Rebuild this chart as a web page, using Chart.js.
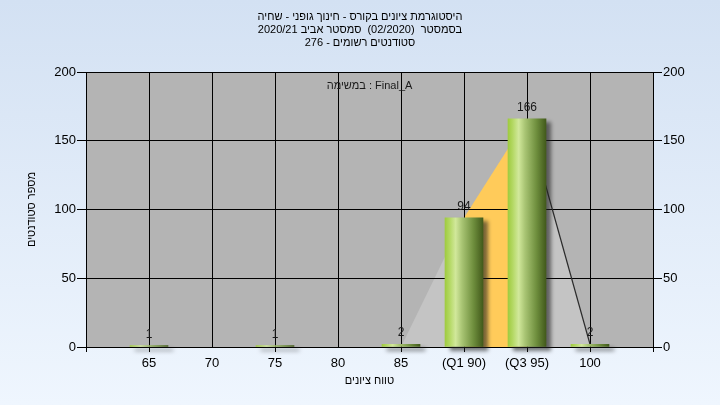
<!DOCTYPE html>
<html lang="he">
<head>
<meta charset="utf-8">
<title>היסטוגרמת ציונים</title>
<script src="https://cdn.jsdelivr.net/npm/chart.js@4/dist/chart.umd.min.js"></script>
<style>
  html, body { margin: 0; padding: 0; background: #e4edf9; }
  #wrap { width: 720px; height: 405px; }
</style>
</head>
<body>
<div id="wrap"><canvas id="myChart" width="720" height="405"></canvas></div>
<script>
const titleLines = [
  'היסטוגרמת ציונים בקורס - חינוך גופני - שחיה',
  'בסמסטר  (02/2020)  סמסטר אביב 2020/21',
  'סטודנטים רשומים - 276'
];
const taskLabel = 'במשימה : Final_A';
const xAxisTitle = 'טווח ציונים';
const yAxisTitle = 'מספר סטודנטים';

const gradeBins = [65, 70, 75, 80, 85, 90, 95, 100];
const binLabels = ['65', '70', '75', '80', '85', '(Q1 90)', '(Q3 95)', '100'];
const studentCounts = [1, 0, 1, 0, 2, 94, 166, 2];

// area behind the bars (quartile band)
const curveGrades = [85, 90, 95, 100];
const curveCounts = [0, 94, 166, 2];

const xRange = [60, 105];
const yTicks = [0, 50, 100, 150, 200];

const FONT = '"Liberation Sans", Arial, sans-serif';
const PLOT_GRAY = '#b4b4b4';
const BAND_GRAY = '#c4c4c4';
const BAND_ORANGE = '#ffcb5a';

function barGradient(c) {
    const chart = c.chart;
    if (!chart.chartArea || !c.raw) return '#9fc652';
    if (!c.raw.y) return 'rgba(0,0,0,0)'; // empty bins: nothing to draw
    const x = chart.scales.x.getPixelForValue(c.raw.x);
    const g = chart.ctx.createLinearGradient(x - 19, 0, x + 19, 0);
    g.addColorStop(0, '#9fcb40');
    g.addColorStop(0.12, '#b3d862');
    g.addColorStop(0.28, '#d1e89b');
    g.addColorStop(0.45, '#a8c473');
    g.addColorStop(0.75, '#6e8e3d');
    g.addColorStop(1, '#425a1b');
    return g;
}

// page gradient + gray plot area, must be painted before the filler
const plotBackground = {
    id: 'plotBackground',
    beforeDraw(chart) {
        const {ctx, width, height, chartArea: a} = chart;
        ctx.save();
        const g = ctx.createLinearGradient(0, 0, 0, height);
        g.addColorStop(0, '#d3e1f3');
        g.addColorStop(1, '#eff6fe');
        ctx.fillStyle = g;
        ctx.fillRect(0, 0, width, height);
        ctx.fillStyle = PLOT_GRAY;
        ctx.fillRect(a.left, a.top, a.right - a.left, a.bottom - a.top);
        ctx.restore();
    }
};

const barShadow = {
    id: 'barShadow',
    beforeDatasetDraw(chart, args) {
        if (args.meta.type !== 'bar') return;
        const ctx = chart.ctx;
        ctx.save();
        ctx.shadowColor = 'rgba(30,30,30,0.6)';
        ctx.shadowBlur = 4;
        ctx.shadowOffsetX = 5;
        ctx.shadowOffsetY = 4;
    },
    afterDatasetDraw(chart, args) {
        if (args.meta.type !== 'bar') return;
        chart.ctx.restore();
    }
};

const barLabels = {
    id: 'barLabels',
    afterDatasetsDraw(chart) {
        const ctx = chart.ctx;
        const meta = chart.getDatasetMeta(0);
        const a = chart.chartArea;
        ctx.save();
        ctx.font = '12px ' + FONT;
        ctx.fillStyle = '#1a1a1a';
        ctx.textAlign = 'center';
        ctx.textBaseline = 'alphabetic';
        meta.data.forEach((bar, i) => {
            if (studentCounts[i] > 0) ctx.fillText(String(studentCounts[i]), bar.x, bar.y - 8);
        });
        ctx.font = '11px ' + FONT;
        ctx.textBaseline = 'middle';
        ctx.fillText(taskLabel, (a.left + a.right) / 2, a.top + 14);
        ctx.restore();
    }
};

const filler = Chart.registry.getPlugin('filler');
if (filler) {
    Chart.unregister(filler);
    Chart.register(plotBackground, filler);
} else {
    Chart.register(plotBackground);
}

function draw_histogram() {
    const data = {
        datasets: [
            {
                type: 'bar',
                label: 'סטודנטים',
                data: gradeBins.map((g, i) => ({x: g, y: studentCounts[i]})),
                backgroundColor: barGradient,
                barThickness: 38,
                clip: false,
                order: 1
            },
            {
                type: 'line',
                label: 'רבעונים',
                data: curveGrades.map((g, i) => ({x: g, y: curveCounts[i]})),
                fill: 'origin',
                backgroundColor: BAND_GRAY,
                borderWidth: 1.2,
                pointRadius: 0,
                tension: 0,
                segment: {
                    borderColor: c => c.p0DataIndex === curveGrades.length - 2 ? '#2b2b2b' : 'rgba(0,0,0,0)',
                    backgroundColor: c => c.p0DataIndex === 1 ? BAND_ORANGE : BAND_GRAY
                },
                order: 2
            }
        ]
    };

    const yCommon = {
        type: 'linear',
        min: yTicks[0],
        max: yTicks[yTicks.length - 1],
        ticks: {
            stepSize: yTicks[1] - yTicks[0],
            color: '#000',
            padding: 1,
            font: {family: FONT, size: 13}
        },
        border: {display: true, color: '#000', width: 1}
    };

    const config = {
        type: 'bar',
        data: data,
        plugins: [barShadow, barLabels],
        options: {
            responsive: false,
            animation: false,
            devicePixelRatio: 1,
            layout: {padding: 0},
            plugins: {
                legend: {display: false},
                tooltip: {enabled: false},
                filler: {drawTime: 'beforeDraw'},
                title: {
                    display: true,
                    text: titleLines,
                    color: '#000',
                    font: {family: FONT, size: 11, weight: 'normal', lineHeight: 1.2},
                    padding: {top: 10.4, bottom: 22}
                }
            },
            scales: {
                x: {
                    type: 'linear',
                    min: xRange[0],
                    max: xRange[1],
                    offset: false,
                    grid: {
                        offset: false,
                        color: '#000',
                        tickLength: 5,
                        tickColor: c => {
                            const i = gradeBins.indexOf(c.tick.value);
                            return (i >= 0 && studentCounts[i] === 0) ? 'rgba(0,0,0,0)' : '#000';
                        }
                    },
                    border: {display: true, color: '#000'},
                    ticks: {
                        stepSize: 5,
                        autoSkip: false,
                        maxRotation: 0,
                        color: '#000',
                        padding: 4,
                        font: {family: FONT, size: 13},
                        callback: v => {
                            const i = gradeBins.indexOf(v);
                            return i < 0 ? '' : binLabels[i];
                        }
                    },
                    title: {
                        display: true,
                        text: xAxisTitle,
                        color: '#000',
                        font: {family: FONT, size: 11},
                        padding: {top: 0, bottom: 17}
                    },
                    afterFit: s => { s.height = 58; }
                },
                y: Object.assign({}, yCommon, {
                    position: 'left',
                    grid: {color: '#000', tickLength: 9, tickColor: '#000'},
                    title: {
                        display: true,
                        text: yAxisTitle,
                        color: '#000',
                        font: {family: FONT, size: 11},
                        padding: {top: 25, bottom: 0}
                    },
                    afterFit: s => { s.width = 86; }
                }),
                y2: Object.assign({}, yCommon, {
                    position: 'right',
                    grid: {drawOnChartArea: false, tickLength: 9, tickColor: '#000'},
                    afterFit: s => { s.width = 67; }
                })
            }
        }
    };

    var myChart = new Chart(
        document.getElementById('myChart'),
        config
    );
}

draw_histogram();
</script>
</body>
</html>
